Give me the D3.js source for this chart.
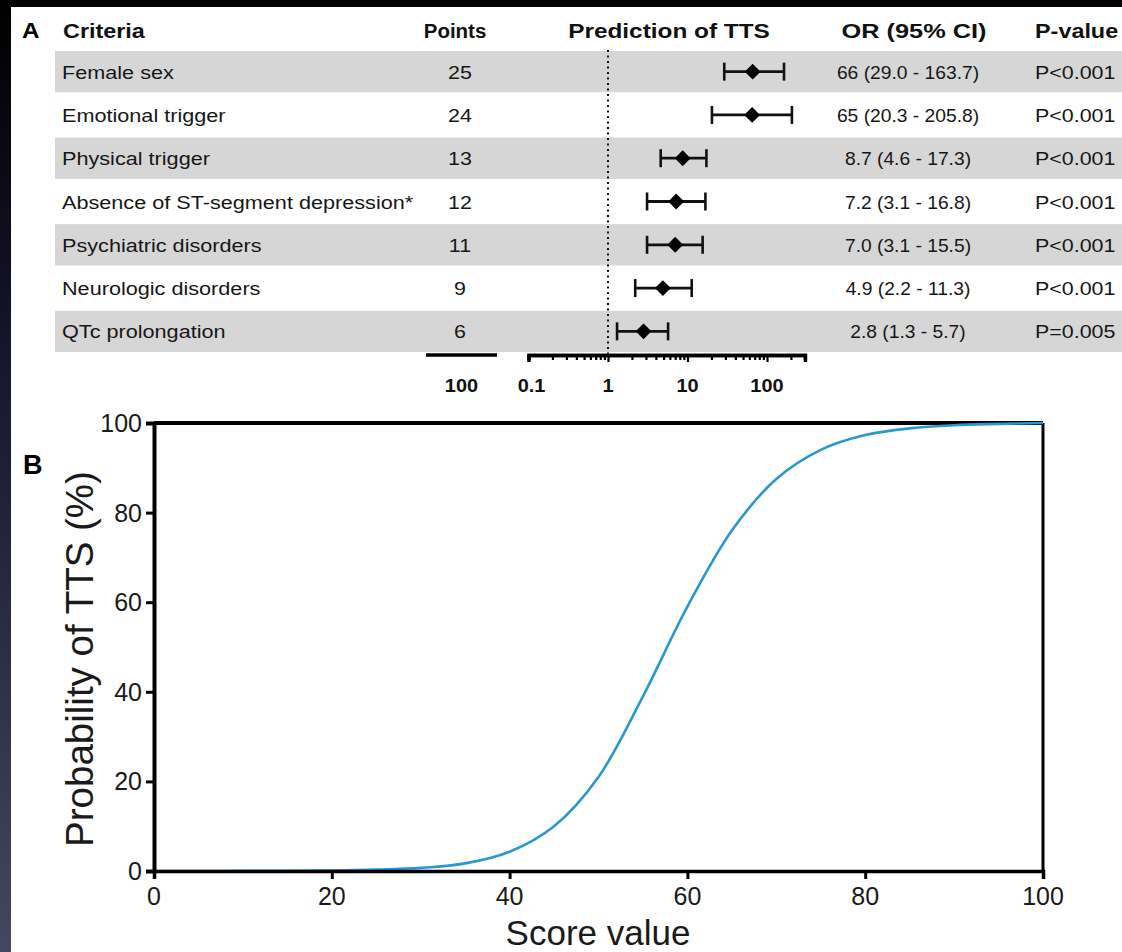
<!DOCTYPE html>
<html>
<head>
<meta charset="utf-8">
<script src="https://cdn.jsdelivr.net/npm/d3@7"></script>
<style>
  html, body { margin: 0; padding: 0; background: #000; }
  svg { display: block; font-family: "Liberation Sans", Arial, Helvetica, sans-serif; }
</style>
</head>
<body>
<svg id="chart" width="1122" height="952"></svg>
<script>
// ---------------- DATA ----------------
const criteria = [
  "Female sex",
  "Emotional trigger",
  "Physical trigger",
  "Absence of ST-segment depression*",
  "Psychiatric disorders",
  "Neurologic disorders",
  "QTc prolongation"
];
const points = [25, 24, 13, 12, 11, 9, 6];
const orValues = [66, 65, 8.7, 7.2, 7.0, 4.9, 2.8];
const ciLow = [29.0, 20.3, 4.6, 3.1, 3.1, 2.2, 1.3];
const ciHigh = [163.7, 205.8, 17.3, 16.8, 15.5, 11.3, 5.7];
const orLabels = [
  "66 (29.0 - 163.7)",
  "65 (20.3 - 205.8)",
  "8.7 (4.6 - 17.3)",
  "7.2 (3.1 - 16.8)",
  "7.0 (3.1 - 15.5)",
  "4.9 (2.2 - 11.3)",
  "2.8 (1.3 - 5.7)"
];
const pLabels = ["P<0.001", "P<0.001", "P<0.001", "P<0.001", "P<0.001", "P<0.001", "P=0.005"];
const headers = ["Criteria", "Points", "Prediction of TTS", "OR (95% CI)", "P-value"];
const orMajorTicks = [0.1, 1, 10, 100];
const orMajorLabels = ["0.1", "1", "10", "100"];
const orMinorTicks = [0.2,0.3,0.4,0.5,0.6,0.7,0.8,0.9,2,3,4,5,6,7,8,9,20,30,40,50,60,70,80,90,200,300];
const pointsBarLabel = "100";

// Panel B: score -> probability
const scores = [0, 5, 10, 15, 20, 25, 30, 35, 40, 45, 50, 55, 60, 65, 70, 75, 80, 85, 90, 95, 100];
const probs  = [0, 0, 0.02, 0.05, 0.12, 0.3, 0.7, 1.7, 4.3, 10, 21, 39, 59, 76, 87.5, 94, 97.3, 98.8, 99.5, 99.8, 100];
const xTicksB = [0, 20, 40, 60, 80, 100];
const yTicksB = [0, 20, 40, 60, 80, 100];

// ---------------- DRAW ----------------
const svg = d3.select("#chart");
const defs = svg.append("defs");
const grad = defs.append("linearGradient").attr("id", "edge").attr("x1", 0).attr("y1", 0).attr("x2", 0).attr("y2", 1);
grad.append("stop").attr("offset", "0").attr("stop-color", "#000");
grad.append("stop").attr("offset", "0.35").attr("stop-color", "#14142a");
grad.append("stop").attr("offset", "1").attr("stop-color", "#44475f");

svg.append("rect").attr("width", 1122).attr("height", 952).attr("fill", "#000");
svg.append("rect").attr("x", 0).attr("y", 0).attr("width", 12).attr("height", 952).attr("fill", "url(#edge)");
svg.append("rect").attr("x", 11).attr("y", 7).attr("width", 1111).attr("height", 945).attr("fill", "#fff");

function T(sel, x, y, s, o = {}) {
  return sel.append("text")
    .attr("transform", `translate(${x},${y}) scale(${o.sx || 1},1)`)
    .attr("text-anchor", o.anchor || "start")
    .attr("font-size", o.size || 18.5)
    .attr("font-weight", o.weight || "normal")
    .attr("fill", o.fill || "#161616")
    .text(s);
}

// ---- Panel A ----
const gA = svg.append("g");
const rowY = d3.scaleBand().domain(criteria).range([50, 353]).padding(0);

// stripes
gA.selectAll("rect.stripe").data(criteria.filter((d, i) => i % 2 === 0)).join("rect")
  .attr("class", "stripe")
  .attr("x", 55).attr("width", 1122 - 55)
  .attr("y", d => rowY(d) + 1).attr("height", rowY.bandwidth() - 2)
  .attr("fill", "#d6d6d6");

T(gA, 22, 38, "A", { size: 22, weight: "bold", fill: "#000", sx: 1.1 });
const headerX = [63, 455, 669, 914, 1035];
const headerAnchor = ["start", "middle", "middle", "middle", "start"];
const headerSx = [1.2, 1.05, 1.25, 1.3, 1.2];
headers.forEach((h, i) => T(gA, headerX[i], 38, h, { size: 19.5, weight: "bold", fill: "#111", anchor: headerAnchor[i], sx: headerSx[i] }));

criteria.forEach((c, i) => {
  const cy = rowY(c) + rowY.bandwidth() / 2 + 7;
  T(gA, 62, cy, c, { size: 18.5, sx: 1.17 });
  T(gA, 460, cy, String(points[i]), { size: 18.5, sx: 1.16, anchor: "middle" });
  T(gA, 908, cy, orLabels[i], { size: 18.5, sx: 1.04, anchor: "middle" });
  T(gA, 1035, cy, pLabels[i], { size: 18.5, sx: 1.16 });
});

// forest scale
const xOR = d3.scaleLog().domain([0.1, 300]).range([528.5, 608 + 79.5 * Math.log10(300)]);
const axisY = 355;

// reference dotted line at OR = 1
gA.append("line")
  .attr("x1", xOR(1)).attr("x2", xOR(1)).attr("y1", 50).attr("y2", axisY)
  .attr("stroke", "#111").attr("stroke-width", 2).attr("stroke-dasharray", "2,3.5");

// error bars
const fg = gA.append("g");
criteria.forEach((c, i) => {
  const cy = rowY(c) + rowY.bandwidth() / 2;
  fg.append("line").attr("x1", xOR(ciLow[i])).attr("x2", xOR(ciHigh[i])).attr("y1", cy).attr("y2", cy)
    .attr("stroke", "#111").attr("stroke-width", 2.8);
  [ciLow[i], ciHigh[i]].forEach(v => {
    fg.append("line").attr("x1", xOR(v)).attr("x2", xOR(v)).attr("y1", cy - 9).attr("y2", cy + 9)
      .attr("stroke", "#111").attr("stroke-width", 2.6);
  });
  fg.append("path")
    .attr("d", d3.symbol().type(d3.symbolDiamond2).size(160)())
    .attr("transform", `translate(${xOR(orValues[i])},${cy})`)
    .attr("fill", "#000");
});

// forest axis
const axMinor = d3.axisBottom(xOR).tickValues(orMinorTicks).tickSize(5).tickFormat("");
const axMajor = d3.axisBottom(xOR).tickValues(orMajorTicks).tickSize(7).tickFormat("");
const gAxMinor = gA.append("g").attr("transform", `translate(0,${axisY})`).call(axMinor);
const gAxMajor = gA.append("g").attr("transform", `translate(0,${axisY})`).call(axMajor);
[gAxMinor, gAxMajor].forEach(g => {
  g.select(".domain").attr("stroke", "#000").attr("stroke-width", 3.4);
  g.selectAll(".tick line").attr("stroke", "#000").attr("stroke-width", 2.2);
});
orMajorTicks.forEach((v, i) => T(gA, xOR(v) + (i === 0 ? 3 : 0), 392, orMajorLabels[i], { size: 19, weight: "bold", anchor: "middle", fill: "#111", sx: 1.05 }));

// points scale bar
const xPts = d3.scaleLinear().domain([0, 100]).range([426, 497]);
gA.append("line").attr("x1", xPts(0)).attr("x2", xPts(100)).attr("y1", axisY).attr("y2", axisY)
  .attr("stroke", "#000").attr("stroke-width", 3.4);
T(gA, (xPts(0) + xPts(100)) / 2, 392, pointsBarLabel, { size: 19, weight: "bold", anchor: "middle", fill: "#111", sx: 1.05 });

// ---- Panel B ----
const gB = svg.append("g");
const xB = d3.scaleLinear().domain([0, 100]).range([154, 1043]);
const yB = d3.scaleLinear().domain([0, 100]).range([871, 423]);

// frame top & right
gB.append("line").attr("x1", xB(0)).attr("x2", xB(100)).attr("y1", yB(100)).attr("y2", yB(100)).attr("stroke", "#000").attr("stroke-width", 4);
gB.append("line").attr("x1", xB(100)).attr("x2", xB(100)).attr("y1", yB(100)).attr("y2", yB(0)).attr("stroke", "#000").attr("stroke-width", 3);

// curve
gB.append("path")
  .datum(scores.map((s, i) => [s, probs[i]]))
  .attr("d", d3.line().x(d => xB(d[0])).y(d => yB(d[1])).curve(d3.curveCatmullRom.alpha(0.5)))
  .attr("fill", "none").attr("stroke", "#2a97cf").attr("stroke-width", 2.6);

const axB = gB.append("g").attr("transform", `translate(0,${yB(0)})`)
  .call(d3.axisBottom(xB).tickValues(xTicksB).tickSize(8).tickFormat(""));
const ayB = gB.append("g").attr("transform", `translate(${xB(0)},0)`)
  .call(d3.axisLeft(yB).tickValues(yTicksB).tickSize(8).tickFormat(""));
axB.select(".domain").attr("stroke", "#000").attr("stroke-width", 3.5);
ayB.select(".domain").attr("stroke", "#000").attr("stroke-width", 4);
axB.selectAll(".tick line").attr("stroke", "#000").attr("stroke-width", 3);
ayB.selectAll(".tick line").attr("stroke", "#000").attr("stroke-width", 3);

xTicksB.forEach(v => T(gB, xB(v), 905, String(v), { size: 25, anchor: "middle", fill: "#1a1a1a" }));
yTicksB.forEach(v => T(gB, 142, yB(v) + 9, String(v), { size: 25, anchor: "end", fill: "#1a1a1a" }));

T(gB, 598, 945, "Score value", { size: 35, anchor: "middle", fill: "#1a1a1a" });
gB.append("text")
  .attr("transform", "translate(93,659) rotate(-90)")
  .attr("text-anchor", "middle").attr("font-size", 38.5).attr("fill", "#1a1a1a")
  .text("Probability of TTS (%)");
T(gB, 23, 474, "B", { size: 27, weight: "bold", fill: "#000" });
</script>
</body>
</html>
